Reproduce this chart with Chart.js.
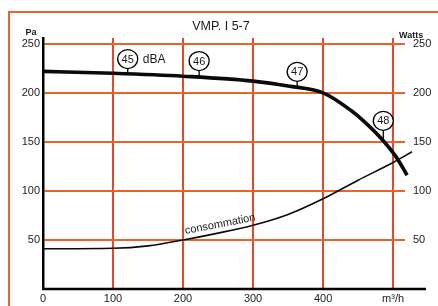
<!DOCTYPE html>
<html><head><meta charset="utf-8">
<script src="https://cdn.jsdelivr.net/npm/chart.js@4.4.1/dist/chart.umd.min.js"></script>
<style>html,body{margin:0;padding:0;background:#fff}</style>
</head><body>
<canvas id="c" width="438" height="306"></canvas>
<script>
// Data
const flowP = [0, 100, 200, 300, 350, 400, 440, 460, 485, 505, 520];        // m3/h
const pressure = [222, 220, 217, 212, 207, 200, 182, 170, 152, 134, 116];  // Pa
const flowW = [0, 100, 150, 200, 250, 300, 350, 400, 450, 500, 527];       // m3/h
const power = [41, 41.5, 44, 50, 57, 65, 76, 92, 111, 129, 140];           // Watts
const xTicks = [0, 100, 200, 300, 400, 500];
const xTickLabels = ['0', '100', '200', '300', '400', 'm³/h'];
const yTicks = [0, 50, 100, 150, 200, 250];
const dbaText = ['45', '46', '47', '48'];
const dbaFlow = [121, 223, 363, 486];
const dbaCircleY = [234.5, 232.5, 221.5, 171.5];
const dbaCurveY = [220, 216.5, 206, 152];

const FONT = "'Liberation Sans', Arial, sans-serif";
const GRID_V = '#e4492b';
const GRID_H = '#e8642b';
const INK = '#1a1a1a';

const extras = {
  id: 'extras',
  afterDatasetsDraw(chart) {
    const c = chart.ctx, xs = chart.scales.x, ys = chart.scales.y, a = chart.chartArea;
    c.save();
    // outer frame
    c.strokeStyle = GRID_H; c.lineWidth = 2;
    c.beginPath(); c.moveTo(9, 306); c.lineTo(9, 12); c.lineTo(438, 12); c.stroke();
    // x axis line
    const y0 = ys.getPixelForValue(0);
    c.strokeStyle = '#000'; c.lineWidth = 2.5;
    c.beginPath(); c.moveTo(a.left - 1, y0); c.lineTo(426, y0); c.stroke();
    // texts
    c.fillStyle = INK;
    c.font = '12.5px ' + FONT; c.textAlign = 'center'; c.textBaseline = 'alphabetic';
    c.fillText('VMP. I 5-7', 221, 30);
    c.font = 'bold 9px ' + FONT;
    c.fillText('Pa', 31, 35);
    c.textAlign = 'left';
    c.fillText('Watts', 399, 38);
    // dBA circles
    dbaText.forEach((t, i) => {
      const px = xs.getPixelForValue(dbaFlow[i]);
      const py = ys.getPixelForValue(dbaCircleY[i]);
      const pc = ys.getPixelForValue(dbaCurveY[i]);
      c.strokeStyle = '#000'; c.lineWidth = 1.3;
      c.beginPath(); c.moveTo(px, py + 9); c.lineTo(px, pc); c.stroke();
      c.fillStyle = '#fff';
      c.beginPath(); c.ellipse(px, py, 10, 9.5, 0, 0, Math.PI * 2); c.fill(); c.stroke();
      c.fillStyle = INK; c.font = '11px ' + FONT; c.textAlign = 'center'; c.textBaseline = 'middle';
      c.fillText(t, px, py + 0.5);
      if (i === 0) {
        c.textAlign = 'left'; c.font = '12px ' + FONT;
        c.fillText('dBA', px + 15, py + 0.5);
      }
    });
    // consommation label
    c.save();
    c.translate(xs.getPixelForValue(253), ys.getPixelForValue(66));
    c.rotate(-11 * Math.PI / 180);
    c.font = '11px ' + FONT; c.textAlign = 'center'; c.textBaseline = 'middle'; c.fillStyle = INK;
    c.fillText('consommation', 0, 0);
    c.restore();
    c.restore();
  }
};

new Chart(document.getElementById('c'), {
  type: 'line',
  data: {
    datasets: [
      { data: flowP.map((x, i) => ({ x, y: pressure[i] })), borderColor: '#0a0a0a', borderWidth: 3.6,
        pointRadius: 0, cubicInterpolationMode: 'monotone', clip: false, yAxisID: 'y' },
      { data: flowW.map((x, i) => ({ x, y: power[i] })), borderColor: '#0a0a0a', borderWidth: 1.6,
        pointRadius: 0, cubicInterpolationMode: 'monotone', clip: false, yAxisID: 'y2' }
    ]
  },
  options: {
    responsive: false, animation: false, devicePixelRatio: 1,
    layout: { padding: { top: 38, left: 0, right: 0, bottom: 0 } },
    plugins: { legend: { display: false }, tooltip: { enabled: false } },
    scales: {
      x: {
        type: 'linear', min: 0, max: 517,
        afterBuildTicks: s => { s.ticks = xTicks.map(v => ({ value: v })); },
        afterFit: s => { s.height = 17; },
        ticks: { callback: v => xTickLabels[xTicks.indexOf(v)], font: { size: 11, family: FONT }, color: '#222',
                 padding: 3, maxRotation: 0, autoSkip: false },
        grid: { color: ctx => (ctx.tick && ctx.tick.value === 0) ? 'rgba(0,0,0,0)' : GRID_V, lineWidth: 2, drawTicks: false },
        border: { display: false }
      },
      y: {
        position: 'left', min: 0, max: 256,
        afterBuildTicks: s => { s.ticks = yTicks.map(v => ({ value: v })); },
        afterFit: s => { s.width = 43; },
        ticks: { callback: v => v === 0 ? '' : String(v), font: { size: 11, family: FONT }, color: '#222', padding: 3 },
        grid: { color: ctx => (ctx.tick && ctx.tick.value === 0) ? 'rgba(0,0,0,0)' : GRID_H, lineWidth: 2, drawTicks: false },
        border: { display: true, color: '#000', width: 2.5 }
      },
      y2: {
        position: 'right', min: 0, max: 256,
        afterBuildTicks: s => { s.ticks = yTicks.map(v => ({ value: v })); },
        afterFit: s => { s.width = 33; },
        ticks: { callback: v => v === 0 ? '' : String(v), font: { size: 11, family: FONT }, color: '#222', padding: 8 },
        grid: { display: false, drawTicks: false },
        border: { display: false }
      }
    }
  },
  plugins: [extras]
});
</script>
</body></html>
